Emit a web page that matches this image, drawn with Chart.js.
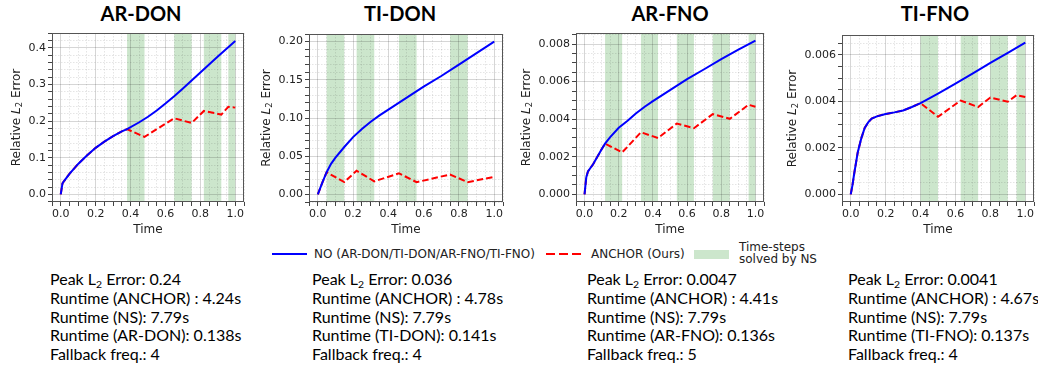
<!DOCTYPE html>
<html>
<head>
<meta charset="utf-8">
<script src="https://cdn.jsdelivr.net/npm/chart.js@4.4.0/dist/chart.umd.min.js"></script>
<style>
  body { margin: 0; width: 1038px; height: 379px; overflow: hidden; background: #fff; position: relative; font-family: "DejaVu Sans", sans-serif; }
  canvas { position: absolute; top: 0; }
  .title { position: absolute; top: 1px; font-family: Lato, sans-serif; font-weight: bold; font-size: 20px; line-height: 24px; transform: translateX(-50%); white-space: nowrap; color: #000; }
  .stats { position: absolute; top: 270px; font-family: Lato, sans-serif; font-size: 16px; line-height: 18.75px; color: #000; white-space: nowrap; }
  .stats sub { font-size: 0.65em; vertical-align: -0.25em; line-height: 0; }
  .leg { position: absolute; font-family: "DejaVu Sans", sans-serif; font-size: 12px; line-height: 14px; color: #222; white-space: nowrap; }
  .swatch { position: absolute; }
</style>
</head>
<body>
<div id="titles"></div>
<div id="legend">
  <div class="swatch" style="left:272px; top:253px; width:35px; height:2px; background:#0000ff;"></div>
  <div class="leg" style="left:314px; top:247px;">NO (AR-DON/TI-DON/AR-FNO/TI-FNO)</div>
  <div class="swatch" style="left:546px; top:253px; width:35px; height:2px; background:repeating-linear-gradient(to right, #ff0000 0 9px, transparent 9px 13px);"></div>
  <div class="leg" style="left:591px; top:247px;">ANCHOR (Ours)</div>
  <div class="swatch" style="left:694px; top:250px; width:35px; height:9px; background:rgba(0,128,0,0.2);"></div>
  <div class="leg" style="left:739px; top:240.5px; line-height:12.5px;">Time-steps<br>solved by NS</div>
</div>
<div id="stats"></div>
<script>
// ---- data ----
const models = ['AR-DON', 'TI-DON', 'AR-FNO', 'TI-FNO'];
const xTickLabels = ['0.0', '0.2', '0.4', '0.6', '0.8', '1.0'];

const arDonTime = [0, 0.01, 0.02, 0.05, 0.1, 0.15, 0.2, 0.25, 0.3, 0.35, 0.38, 0.45, 0.5, 0.55, 0.6, 0.65, 0.7, 0.75, 0.8, 0.85, 0.9, 0.95, 1.0];
const arDonNO = [0, 0.030, 0.037, 0.056, 0.083, 0.106, 0.127, 0.144, 0.159, 0.172, 0.178, 0.197, 0.212, 0.229, 0.248, 0.268, 0.289, 0.311, 0.333, 0.355, 0.377, 0.398, 0.419];
const arDonAnchorTime = [0, 0.01, 0.02, 0.05, 0.1, 0.15, 0.2, 0.25, 0.3, 0.35, 0.38, 0.48, 0.65, 0.75, 0.82, 0.92, 0.96, 1.0];
const arDonAnchor = [0, 0.030, 0.037, 0.056, 0.083, 0.106, 0.127, 0.144, 0.159, 0.172, 0.178, 0.157, 0.208, 0.195, 0.228, 0.218, 0.239, 0.237];
const arDonShades = [[0.38, 0.48], [0.65, 0.75], [0.82, 0.92], [0.96, 1.0]];
const arDonYTicks = ['0.0', '0.1', '0.2', '0.3', '0.4'];

const tiDonTime = [0, 0.025, 0.05, 0.075, 0.1, 0.15, 0.2, 0.25, 0.3, 0.35, 0.4, 0.5, 0.6, 0.7, 0.8, 0.9, 1.0];
const tiDonNO = [0, 0.015, 0.029, 0.040, 0.048, 0.062, 0.075, 0.0855, 0.095, 0.1035, 0.111, 0.126, 0.141, 0.155, 0.170, 0.185, 0.200];
const tiDonAnchorTime = [0, 0.025, 0.05, 0.15, 0.22, 0.32, 0.46, 0.56, 0.75, 0.85, 1.0];
const tiDonAnchor = [0, 0.015, 0.029, 0.016, 0.031, 0.017, 0.0275, 0.016, 0.026, 0.016, 0.023];
const tiDonShades = [[0.05, 0.15], [0.22, 0.32], [0.46, 0.56], [0.75, 0.85]];
const tiDonYTicks = ['0.00', '0.05', '0.10', '0.15', '0.20'];

const arFnoTime = [0, 0.01, 0.02, 0.05, 0.1, 0.12, 0.15, 0.2, 0.25, 0.3, 0.35, 0.4, 0.5, 0.6, 0.7, 0.8, 0.9, 1.0];
const arFnoNO = [0, 0.0009, 0.00122, 0.0016, 0.0024, 0.0027, 0.00305, 0.00354, 0.0039, 0.0043, 0.00465, 0.00496, 0.00555, 0.00613, 0.00666, 0.0072, 0.0077, 0.00818];
const arFnoAnchorTime = [0, 0.01, 0.02, 0.05, 0.1, 0.12, 0.22, 0.33, 0.43, 0.54, 0.64, 0.75, 0.85, 0.96, 1.0];
const arFnoAnchor = [0, 0.0009, 0.00122, 0.0016, 0.0024, 0.0027, 0.00223, 0.0033, 0.0030, 0.00377, 0.00352, 0.00427, 0.00402, 0.00477, 0.00466];
const arFnoShades = [[0.12, 0.22], [0.33, 0.43], [0.54, 0.64], [0.75, 0.85], [0.96, 1.0]];
const arFnoYTicks = ['0.000', '0.002', '0.004', '0.006', '0.008'];

const tiFnoTime = [0, 0.01, 0.02, 0.04, 0.06, 0.08, 0.1, 0.12, 0.15, 0.2, 0.25, 0.3, 0.35, 0.4, 0.5, 0.6, 0.7, 0.8, 0.9, 1.0];
const tiFnoNO = [0, 0.0004, 0.0009, 0.0018, 0.0024, 0.00286, 0.0031, 0.00326, 0.00336, 0.00346, 0.00353, 0.00361, 0.00376, 0.00393, 0.00434, 0.00477, 0.00521, 0.00566, 0.00609, 0.00653];
const tiFnoAnchorTime = [0, 0.01, 0.02, 0.04, 0.06, 0.08, 0.1, 0.12, 0.15, 0.2, 0.25, 0.3, 0.35, 0.4, 0.5, 0.63, 0.73, 0.8, 0.9, 0.95, 1.0];
const tiFnoAnchor = [0, 0.0004, 0.0009, 0.0018, 0.0024, 0.00286, 0.0031, 0.00326, 0.00336, 0.00346, 0.00353, 0.00361, 0.00376, 0.00393, 0.00334, 0.00404, 0.00376, 0.00417, 0.00399, 0.00427, 0.00419];
const tiFnoShades = [[0.40, 0.50], [0.63, 0.73], [0.80, 0.90], [0.95, 1.0]];
const tiFnoYTicks = ['0.000', '0.002', '0.004', '0.006'];

const peakError = ['0.24', '0.036', '0.0047', '0.0041'];
const runtimeAnchor = ['4.24s', '4.78s', '4.41s', '4.67s'];
const runtimeNS = ['7.79s', '7.79s', '7.79s', '7.79s'];
const runtimeModel = ['0.138s', '0.141s', '0.136s', '0.137s'];
const fallbackFreq = ['4', '4', '5', '4'];

// ---- layout (page pixels) ----
const plotBoxes = [[52, 33, 244, 202], [309, 34, 503, 202], [576, 33, 764, 202], [842, 35, 1034, 202]];
const titleCenters = [141, 400, 670, 935];
const statsLeft = [50, 312, 587, 848];
const Y_AXIS_W = 62;
const CANVAS_H = 240;

function buildTicks(min, max, minorStep, labels) {
  const ticks = [];
  const first = Math.ceil(min / minorStep - 1e-9);
  const last = Math.floor(max / minorStep + 1e-9);
  for (let i = first; i <= last; i++) {
    const v = +(i * minorStep).toFixed(10);
    const lab = labels.find(l => Math.abs(parseFloat(l) - v) < minorStep / 10);
    ticks.push({ value: v, major: !!lab, text: lab || '' });
  }
  return ticks;
}

function toPoints(xs, ys) {
  return xs.map((x, i) => ({ x: x, y: ys[i] }));
}

function drawShades(chart, ranges) {
  const { ctx, chartArea: a, scales: { x } } = chart;
  ctx.save();
  ctx.fillStyle = 'rgba(0,128,0,0.2)';
  ranges.forEach(([s, e]) => {
    const x0 = x.getPixelForValue(s);
    const x1 = x.getPixelForValue(e);
    ctx.fillRect(x0, a.top, x1 - x0, a.bottom - a.top);
  });
  ctx.restore();
}

function drawFrame(chart) {
  const { ctx, chartArea: a } = chart;
  ctx.save();
  ctx.strokeStyle = '#555';
  ctx.lineWidth = 1;
  ctx.strokeRect(Math.round(a.left) + 0.5, Math.round(a.top) + 0.5, Math.round(a.right - a.left) - 1, Math.round(a.bottom - a.top) - 1);
  ctx.restore();
}

function drawYLabel(chart) {
  const ctx = chart.ctx;
  const a = chart.chartArea;
  ctx.save();
  ctx.font = '11px "DejaVu Sans"';
  let maxW = 0;
  chart.scales.y.ticks.forEach(t => { if (t.text) maxW = Math.max(maxW, ctx.measureText(t.text).width); });
  const cx = a.left - 6 - maxW - 13;
  const cy = (a.top + a.bottom) / 2;
  const parts = [
    { text: 'Relative ', font: '12px "DejaVu Sans"', dy: 0 },
    { text: 'L', font: 'italic 12px "DejaVu Sans"', dy: 0 },
    { text: '2', font: '8.5px "DejaVu Sans"', dy: 2.5 },
    { text: ' Error', font: '12px "DejaVu Sans"', dy: 0 }
  ];
  let total = 0;
  parts.forEach(p => { ctx.font = p.font; p.w = ctx.measureText(p.text).width; total += p.w; });
  ctx.translate(cx, cy);
  ctx.rotate(-Math.PI / 2);
  ctx.fillStyle = '#222';
  ctx.textBaseline = 'alphabetic';
  let x = -total / 2;
  parts.forEach(p => { ctx.font = p.font; ctx.fillText(p.text, x, 4.4 + p.dy); x += p.w; });
  ctx.restore();
}

function gridColor(ctx) {
  return ctx.tick && ctx.tick.major ? 'rgba(0,0,0,0.16)' : 'rgba(0,0,0,0.10)';
}
function gridDash(ctx) {
  return ctx.tick && ctx.tick.major ? [] : [1.5, 1.5];
}

function makePanel(i, time, no, anchorTime, anchor, shades, yTicks, yMin, yMax, yMinor) {
  const box = plotBoxes[i];
  const canvas = document.createElement('canvas');
  canvas.width = Y_AXIS_W + (box[2] - box[0]) + 4;
  canvas.height = CANVAS_H;
  canvas.style.left = (box[0] - Y_AXIS_W) + 'px';
  document.body.appendChild(canvas);

  const tickFont = { family: 'DejaVu Sans', size: 11 };
  const axisCommon = {
    type: 'linear',
    grid: { color: gridColor, lineWidth: 1, tickLength: 4, tickColor: '#444', tickWidth: 1 },
    border: { display: false, dash: gridDash },
    ticks: { autoSkip: false, maxRotation: 0, color: '#222', font: tickFont, padding: 2,
      callback: (v, idx, ticks) => ticks[idx].text || '' }
  };

  new Chart(canvas, {
    type: 'line',
    data: {
      datasets: [
        { label: 'NO', data: toPoints(time, no), borderColor: '#0000ff', borderWidth: 2, pointRadius: 0, tension: 0, fill: false },
        { label: 'ANCHOR (Ours)', data: toPoints(anchorTime, anchor), borderColor: '#ff0000', borderWidth: 2, borderDash: [6.5, 3], pointRadius: 0, tension: 0, fill: false }
      ]
    },
    options: {
      responsive: false,
      animation: false,
      layout: { padding: { left: 0, top: box[1], right: 4, bottom: 0 } },
      plugins: { legend: { display: false }, tooltip: { enabled: false } },
      scales: {
        x: Object.assign({}, axisCommon, {
          min: -0.05, max: 1.05,
          afterBuildTicks: axis => { axis.ticks = buildTicks(-0.05, 1.05, 0.05, xTickLabels); },
          afterFit: axis => { axis.height = CANVAS_H - box[3]; },
          title: { display: true, text: 'Time', color: '#222', font: { family: 'DejaVu Sans', size: 12 }, padding: { top: 0, bottom: 3 } }
        }),
        y: Object.assign({}, axisCommon, {
          min: yMin, max: yMax,
          afterBuildTicks: axis => { axis.ticks = buildTicks(yMin, yMax, yMinor, yTicks); },
          afterFit: axis => { axis.width = Y_AXIS_W; }
        })
      }
    },
    plugins: [{
      id: 'panelExtras',
      beforeDraw: c => drawShades(c, shades),
      afterDatasetsDraw: c => { drawFrame(c); drawYLabel(c); }
    }]
  });

  const t = document.createElement('div');
  t.className = 'title';
  t.style.left = titleCenters[i] + 'px';
  t.textContent = models[i];
  document.getElementById('titles').appendChild(t);

  const s = document.createElement('div');
  s.className = 'stats';
  s.style.left = statsLeft[i] + 'px';
  s.innerHTML = `Peak L<sub>2</sub> Error: ${peakError[i]}<br>` +
    `Runtime (ANCHOR) : ${runtimeAnchor[i]}<br>` +
    `Runtime (NS): ${runtimeNS[i]}<br>` +
    `Runtime (${models[i]}): ${runtimeModel[i]}<br>` +
    `Fallback freq.: ${fallbackFreq[i]}`;
  document.getElementById('stats').appendChild(s);
}

makePanel(0, arDonTime, arDonNO, arDonAnchorTime, arDonAnchor, arDonShades, arDonYTicks, -0.021, 0.441, 0.02);
makePanel(1, tiDonTime, tiDonNO, tiDonAnchorTime, tiDonAnchor, tiDonShades, tiDonYTicks, -0.01, 0.21, 0.01);
makePanel(2, arFnoTime, arFnoNO, arFnoAnchorTime, arFnoAnchor, arFnoShades, arFnoYTicks, -0.000409, 0.00859, 0.0005);
makePanel(3, tiFnoTime, tiFnoNO, tiFnoAnchorTime, tiFnoAnchor, tiFnoShades, tiFnoYTicks, -0.000327, 0.00686, 0.0005);
</script>
</body>
</html>
